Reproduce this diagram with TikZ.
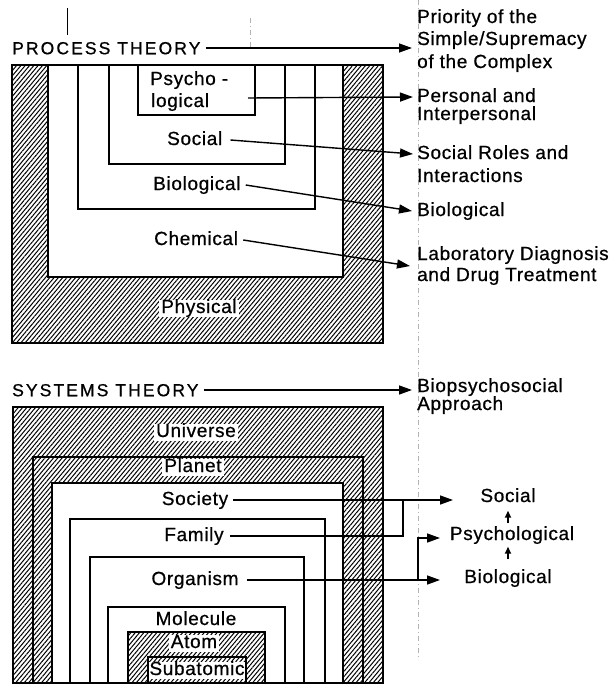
\documentclass[tikz,border=0pt]{standalone}
\usepackage{fontspec}
\setmainfont{Liberation Sans}
\newfontfamily\lblfont[LetterSpace=3.5,FakeBold=0.7]{Liberation Sans}
\newfontfamily\capfont[LetterSpace=12,FakeBold=0.7]{Liberation Sans}
\usetikzlibrary{arrows.meta,patterns.meta}

\begin{document}
\begin{tikzpicture}[x=1pt,y=-1pt,
  hatch/.style={pattern={Lines[angle=50,distance=3.3pt,line width=1pt]}},
  frame/.style={line width=1.9pt,line join=miter},
  wall/.style={line width=1.6pt,line join=miter},
  arr/.style={line width=1.4pt,-{Triangle[length=13pt,width=9pt]}},
  link/.style={line width=1.4pt},
  tinyarr/.style={line width=1.8pt,-{Triangle[length=7pt,width=6pt]}},
  lbl/.style={font=\lblfont\fontsize{19}{22}\selectfont,inner sep=0pt,
              text height=13.5pt,text depth=3.5pt},
  headline/.style={font=\capfont\fontsize{17.5}{20}\selectfont,inner sep=0pt,
              text height=12.5pt,text depth=0pt},
  onhatch/.style={lbl,fill=white,inner xsep=2pt},
  crease/.style={gray!60,line width=0.6pt,dash pattern=on 5pt off 3pt on 1pt off 3pt}
]
\useasboundingbox (0,0) rectangle (612,686);

% faint guide marks on the sheet
\draw[crease] (418,0) -- (418,660);
\draw[crease] (250,18) -- (250,48);
\draw[line width=0.8pt] (67,8) -- (67,35);

% ---------------- process theory: nested levels ----------------
\fill[hatch] (12,65) rectangle (383,343);
\fill[white] (48,65) rectangle (343,277);
\draw[wall] (48,65) |- (343,277) -- (343,65);
\draw[wall] (78,65) |- (315,209) -- (315,65);
\draw[wall] (109,65) |- (285,164) -- (285,65);
\draw[wall] (138,65) |- (255,115) -- (255,65);
\draw[frame] (12,65) rectangle (383,343);

\node[headline,anchor=west] (pt) at (12,48) {PROCESS THEORY};
\node[lbl,anchor=west] (psyA) at (150,80) {Psycho -};
\node[lbl,anchor=west] (psyB) at (151,102) {logical};
\node[lbl,anchor=west] (soc) at (167,140) {Social};
\node[lbl,anchor=west] (bio) at (153,185) {Biological};
\node[lbl,anchor=west] (chem) at (154,240) {Chemical};
\node[onhatch] (phys) at (199,308) {Physical};

% right-hand readings
\node[lbl,anchor=west] (prioA) at (417,18) {Priority of the};
\node[lbl,anchor=west] (prioB) at (417,40) {Simple/Supremacy};
\node[lbl,anchor=west] (prioC) at (417,63) {of the Complex};
\node[lbl,anchor=west] (persA) at (417,97) {Personal and};
\node[lbl,anchor=west] (persB) at (417,115) {Interpersonal};
\node[lbl,anchor=west] (rolesA) at (417,154) {Social Roles and};
\node[lbl,anchor=west] (rolesB) at (417,177) {Interactions};
\node[lbl,anchor=west] (biol) at (417,211) {Biological};
\node[lbl,anchor=west] (labA) at (417,255) {Laboratory Diagnosis};
\node[lbl,anchor=west] (labB) at (417,276) {and Drug Treatment};

\coordinate (ptTip) at (412,48);
\coordinate (psyStart) at (248,98);
\coordinate (chemTip) at (410,266);

\draw[arr] ([xshift=5pt]pt.east) -- (ptTip);
\draw[arr] (psyStart) -- ([xshift=-4pt]persA.west);
\draw[arr] ([xshift=8pt]soc.east) -- ([xshift=-4pt]rolesA.west);
\draw[arr] ([xshift=5pt]bio.east) -- ([xshift=-5pt]biol.west);
\draw[arr] ([xshift=5pt]chem.east) -- (chemTip);

% ---------------- systems theory: nested levels ----------------
\fill[hatch] (13,407) rectangle (383,683);
\draw[wall] (33,683) |- (363,457) -- (363,683);
\fill[white] (52,483) rectangle (343,683);
\draw[wall] (52,683) |- (343,483) -- (343,683);
\draw[wall] (70,683) |- (325,519) -- (325,683);
\draw[wall] (90,683) |- (304,557) -- (304,683);
\draw[wall] (108,683) |- (285,607) -- (285,683);
\fill[white] (128,632) rectangle (265,683);
\fill[hatch] (128,632) rectangle (265,683);

\node[headline,anchor=west] (st) at (12,390) {SYSTEMS THEORY};
\node[onhatch] (uni) at (196,432) {Universe};
\node[onhatch] (pla) at (193,467) {Planet};
\node[lbl] (socy) at (195,500) {Society};
\node[lbl] (fam) at (194,536) {Family};
\node[lbl] (org) at (195,580) {Organism};
\node[lbl] (mol) at (196,620) {Molecule};
\node[onhatch] (atom) at (194,643) {Atom};
\node[onhatch,inner xsep=0pt] (sub) at (197,670) {Subatomic};

\draw[wall] (128,683) |- (265,632) -- (265,683);
\draw[wall] (148,683) |- (246,657) -- (246,683);
\draw[frame] (13,407) rectangle (383,683);

\node[lbl,anchor=west] (bpsA) at (417,387) {Biopsychosocial};
\node[lbl,anchor=west] (bpsB) at (417,405) {Approach};
\draw[arr] ([xshift=5pt]st.east) -- ([xshift=-5pt]st.east -| bpsA.west);

% social / psychological / biological ladder
\node[lbl] (rsoc) at (508,497) {Social};
\node[lbl] (rpsy) at (512,535) {Psychological};
\node[lbl] (rbio) at (508,578) {Biological};
\coordinate (upA) at ([yshift=3pt]rpsy.north);
\coordinate (upB) at ([yshift=10pt]rbio.north);
\coordinate (upC) at ([yshift=-3pt]rpsy.south);
\draw[tinyarr] (upA -| rsoc.south) -- ([yshift=-5pt]rsoc.south);
\draw[tinyarr] (upB) -- (upC -| rbio.north);

\coordinate (socTip) at (453,499);
\coordinate (famJoin) at (403,499);
\coordinate (orgTip) at (440,579);
\coordinate (branch) at (418,579);
\coordinate (psyTip) at (440,538);

\draw[arr] ([xshift=5pt]socy.east) -- (socy.east -| socTip);
\draw[link] ([xshift=6pt]fam.east) -| (famJoin);
\draw[arr] ([xshift=8pt]org.east) -- (org.east -| orgTip);
\draw[arr] (branch) |- (psyTip);
\end{tikzpicture}
\end{document}
